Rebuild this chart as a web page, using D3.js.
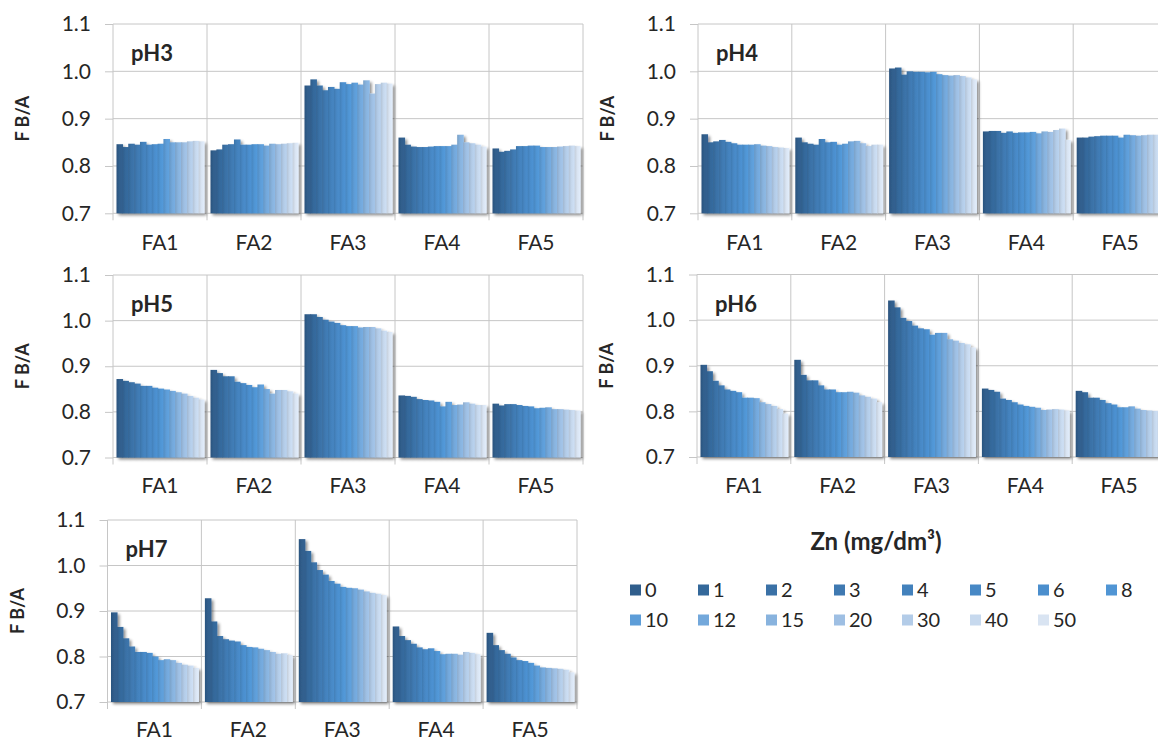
<!DOCTYPE html>
<html>
<head>
<meta charset="utf-8">
<script src="https://cdn.jsdelivr.net/npm/d3@7"></script>
<style>
  body { margin: 0; background: #fff; }
  text { font-family: Lato, "Open Sans", sans-serif; fill: #262626; }
</style>
</head>
<body>
<div id="chart"></div>
<script>
const categories = ["FA1", "FA2", "FA3", "FA4", "FA5"];
const zn = ["0", "1", "2", "3", "4", "5", "6", "8", "10", "12", "15", "20", "30", "40", "50"];
const yTicks = [0.7, 0.8, 0.9, 1.0, 1.1];

// F B/A per FA, one value per Zn level
const pH3 = [
  [0.846, 0.840, 0.847, 0.845, 0.851, 0.845, 0.846, 0.847, 0.857, 0.850, 0.850, 0.850, 0.852, 0.853, 0.852],
  [0.833, 0.835, 0.845, 0.846, 0.856, 0.845, 0.845, 0.846, 0.846, 0.843, 0.847, 0.846, 0.847, 0.848, 0.849],
  [0.970, 0.983, 0.970, 0.960, 0.967, 0.963, 0.977, 0.973, 0.976, 0.972, 0.981, 0.953, 0.973, 0.976, 0.974],
  [0.860, 0.845, 0.841, 0.840, 0.840, 0.841, 0.842, 0.842, 0.842, 0.845, 0.866, 0.850, 0.848, 0.845, 0.841],
  [0.837, 0.830, 0.832, 0.835, 0.842, 0.842, 0.843, 0.843, 0.840, 0.840, 0.840, 0.841, 0.842, 0.843, 0.842]
];
const pH4 = [
  [0.867, 0.850, 0.852, 0.855, 0.851, 0.848, 0.845, 0.845, 0.845, 0.846, 0.843, 0.842, 0.840, 0.839, 0.838],
  [0.860, 0.850, 0.847, 0.845, 0.857, 0.850, 0.851, 0.845, 0.847, 0.852, 0.853, 0.848, 0.842, 0.845, 0.845],
  [1.006, 1.008, 0.993, 1.000, 0.999, 0.999, 0.998, 0.999, 0.994, 0.992, 0.991, 0.992, 0.990, 0.987, 0.983],
  [0.873, 0.874, 0.874, 0.870, 0.873, 0.870, 0.871, 0.871, 0.872, 0.869, 0.873, 0.872, 0.876, 0.879, 0.855],
  [0.860, 0.860, 0.862, 0.863, 0.864, 0.864, 0.864, 0.860, 0.866, 0.865, 0.864, 0.865, 0.866, 0.866, 0.866]
];
const pH5 = [
  [0.872, 0.868, 0.865, 0.862, 0.857, 0.857, 0.853, 0.851, 0.849, 0.846, 0.843, 0.840, 0.835, 0.831, 0.827],
  [0.892, 0.885, 0.878, 0.878, 0.866, 0.863, 0.859, 0.854, 0.860, 0.850, 0.840, 0.848, 0.848, 0.845, 0.840],
  [1.014, 1.014, 1.008, 1.002, 0.998, 0.995, 0.990, 0.988, 0.988, 0.985, 0.986, 0.986, 0.983, 0.978, 0.975],
  [0.836, 0.835, 0.833, 0.828, 0.826, 0.825, 0.822, 0.812, 0.822, 0.815, 0.816, 0.821, 0.818, 0.815, 0.815],
  [0.818, 0.814, 0.817, 0.817, 0.815, 0.813, 0.812, 0.808, 0.809, 0.810, 0.806, 0.806, 0.805, 0.804, 0.803]
];
const pH6 = [
  [0.902, 0.888, 0.867, 0.857, 0.848, 0.845, 0.842, 0.830, 0.830, 0.829, 0.820, 0.816, 0.812, 0.805, 0.795],
  [0.913, 0.880, 0.868, 0.868, 0.857, 0.848, 0.848, 0.842, 0.842, 0.843, 0.841, 0.835, 0.832, 0.828, 0.820],
  [1.043, 1.028, 1.005, 0.998, 0.988, 0.982, 0.980, 0.968, 0.972, 0.972, 0.958, 0.955, 0.950, 0.947, 0.940],
  [0.850, 0.847, 0.843, 0.828, 0.825, 0.820, 0.815, 0.812, 0.810, 0.808, 0.803, 0.804, 0.805, 0.804, 0.802],
  [0.845, 0.842, 0.830, 0.830, 0.825, 0.818, 0.815, 0.809, 0.809, 0.811, 0.806, 0.803, 0.802, 0.801, 0.800]
];
const pH7 = [
  [0.897, 0.865, 0.840, 0.822, 0.810, 0.810, 0.808, 0.800, 0.792, 0.794, 0.792, 0.786, 0.782, 0.780, 0.775],
  [0.928, 0.877, 0.845, 0.838, 0.835, 0.833, 0.825, 0.821, 0.820, 0.817, 0.814, 0.810, 0.806, 0.807, 0.803],
  [1.058, 1.032, 1.007, 0.990, 0.980, 0.966, 0.960, 0.953, 0.951, 0.950, 0.947, 0.943, 0.940, 0.938, 0.935],
  [0.866, 0.845, 0.836, 0.828, 0.820, 0.816, 0.818, 0.812, 0.805, 0.806, 0.806, 0.804, 0.810, 0.808, 0.805],
  [0.852, 0.825, 0.814, 0.806, 0.798, 0.792, 0.790, 0.786, 0.780, 0.776, 0.775, 0.774, 0.773, 0.771, 0.765]
];

const palette = ["#305e8c", "#34689a", "#3a71a6", "#3f79b1", "#4381bc", "#4788c5", "#4b8ecd", "#5095d4",
  "#5d9dd8", "#73a8db", "#88b3de", "#9ebfe3", "#b3cce8", "#c7d9ee", "#d9e4f2"];

const panels = [
  { label: "pH3", data: pH3, left: 113, right: 583, top: 24, bottom: 213.3, labelDy: 36.5 },
  { label: "pH4", data: pH4, left: 698, right: 1167, top: 24, bottom: 213.3, labelDy: 36.5 },
  { label: "pH5", data: pH5, left: 113, right: 583, top: 275, bottom: 457.5, labelDy: 36 },
  { label: "pH6", data: pH6, left: 697, right: 1166, top: 274.5, bottom: 457, labelDy: 36 },
  { label: "pH7", data: pH7, left: 107.5, right: 577, top: 520, bottom: 702, labelDy: 35 }
];

const width = 1158, height = 740;
const gridColor = "#c6c6c6";

const svg = d3.select("#chart").append("svg")
  .attr("width", width)
  .attr("height", height);

const defs = svg.append("defs");

const shadow = defs.append("filter").attr("id", "shadow")
  .attr("x", "-10%").attr("y", "-10%").attr("width", "130%").attr("height", "130%");
shadow.append("feGaussianBlur").attr("in", "SourceAlpha").attr("stdDeviation", 1.4).attr("result", "blur");
shadow.append("feOffset").attr("in", "blur").attr("dx", 2).attr("dy", 2).attr("result", "off");
shadow.append("feComponentTransfer").attr("in", "off").attr("result", "soft")
  .append("feFuncA").attr("type", "linear").attr("slope", 0.45);
const merge = shadow.append("feMerge");
merge.append("feMergeNode").attr("in", "soft");
merge.append("feMergeNode").attr("in", "SourceGraphic");

palette.forEach((c, i) => {
  const g = defs.append("linearGradient").attr("id", "bar" + i)
    .attr("x1", 0).attr("x2", 1).attr("y1", 0).attr("y2", 0);
  g.append("stop").attr("offset", "0%").attr("stop-color", d3.color(c).darker(0.3));
  g.append("stop").attr("offset", "45%").attr("stop-color", c);
  g.append("stop").attr("offset", "100%").attr("stop-color", d3.color(c).brighter(0.12));
});

panels.forEach(p => {
  const y = d3.scaleLinear().domain([0.7, 1.1]).range([p.bottom, p.top]);
  const x0 = d3.scaleBand().domain(categories).range([p.left, p.right]);
  const x1 = d3.scaleBand().domain(zn).range([3.5, x0.bandwidth() - 2.5]);

  const g = svg.append("g");

  // horizontal gridlines
  g.append("g").selectAll("line")
    .data(yTicks)
    .enter().append("line")
    .attr("x1", p.left).attr("x2", p.right)
    .attr("y1", d => y(d)).attr("y2", d => y(d))
    .attr("stroke", gridColor);

  // category boundaries
  g.append("g").selectAll("line")
    .data(categories.concat(["end"]))
    .enter().append("line")
    .attr("x1", (d, i) => p.left + i * x0.bandwidth())
    .attr("x2", (d, i) => p.left + i * x0.bandwidth())
    .attr("y1", p.top).attr("y2", p.bottom + 7)
    .attr("stroke", gridColor);

  // y axis
  const yAxis = g.append("g")
    .attr("transform", `translate(${p.left},0)`)
    .call(d3.axisLeft(y).tickValues(yTicks).tickFormat(d3.format(".1f")).tickSize(8).tickPadding(14));
  yAxis.select(".domain").remove();
  yAxis.selectAll(".tick line").attr("stroke", gridColor);
  yAxis.selectAll("text").attr("font-size", 21).attr("font-family", "Lato").attr("fill", "#262626");

  // x axis labels
  const xAxis = g.append("g")
    .attr("transform", `translate(0,${p.bottom})`)
    .call(d3.axisBottom(x0).tickSize(0).tickPadding(p.labelDy - 15));
  xAxis.select(".domain").remove();
  xAxis.selectAll("text").attr("font-size", 21).attr("font-family", "Lato").attr("fill", "#262626");

  // bars
  const groups = g.append("g").selectAll("g")
    .data(p.data)
    .enter().append("g")
    .attr("transform", (d, i) => `translate(${x0(categories[i])},0)`)
    .attr("filter", "url(#shadow)");

  groups.selectAll("rect")
    .data(d => d)
    .enter().append("rect")
    .attr("x", (d, i) => x1(zn[i]))
    .attr("width", (d, i) => x1.bandwidth() + (i < zn.length - 1 ? 0.7 : 0))
    .attr("y", d => y(d))
    .attr("height", d => y(0.7) - y(d))
    .attr("fill", (d, i) => `url(#bar${i})`);

  // panel label
  g.append("text")
    .attr("x", p.left + 18)
    .attr("y", p.top + 37)
    .attr("font-size", 22)
    .attr("font-weight", "bold")
    .text(p.label);

  // y title
  g.append("text")
    .attr("transform", `translate(${p.left - 84},${(p.top + p.bottom) / 2}) rotate(-90)`)
    .attr("text-anchor", "middle")
    .attr("font-size", 18)
    .attr("font-weight", "bold")
    .text("F B/A");
});

// legend
const legend = svg.append("g");
legend.append("text")
  .attr("x", 876).attr("y", 550)
  .attr("text-anchor", "middle")
  .attr("font-size", 24)
  .attr("font-weight", "bold")
  .text("Zn (mg/dm³)");

const items = legend.selectAll("g.item")
  .data(zn)
  .enter().append("g")
  .attr("class", "item")
  .attr("transform", (d, i) => `translate(${630 + (i % 8) * 68},${590 + Math.floor(i / 8) * 30})`);

items.append("rect")
  .attr("x", 0).attr("y", -5.5)
  .attr("width", 11).attr("height", 11)
  .attr("fill", (d, i) => palette[i]);

items.append("text")
  .attr("x", 15).attr("y", 0)
  .attr("dy", "0.35em")
  .attr("font-size", 20)
  .text(d => d);
</script>
</body>
</html>
